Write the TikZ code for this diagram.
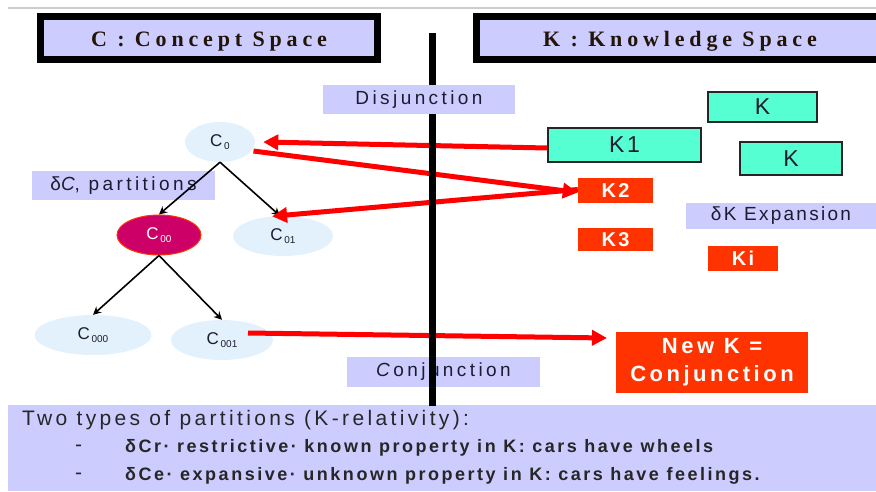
\documentclass[tikz,border=0pt]{standalone}
\usepackage{fontspec}
\setmainfont{Liberation Sans}
\newfontfamily\hdrfont[LetterSpace=22]{Liberation Serif}
\newfontfamily\lblfont[LetterSpace=18]{Liberation Sans}
\newfontfamily\kfont[LetterSpace=12]{Liberation Sans}
\newfontfamily\newkfont[LetterSpace=16]{Liberation Sans}
\newfontfamily\bodyfont[LetterSpace=16]{Liberation Sans}
\newfontfamily\bodyboldfont[LetterSpace=14]{Liberation Sans}
\usetikzlibrary{arrows.meta,shapes.geometric}
\definecolor{lav}{HTML}{CCCCFF}
\definecolor{skyell}{HTML}{E2F1FC}
\definecolor{magen}{HTML}{CC0066}
\definecolor{aqua}{HTML}{55FFD2}
\definecolor{redor}{HTML}{FF3300}
\definecolor{ink}{HTML}{1C1C30}
\definecolor{hdrink}{HTML}{231408}
\newcommand{\csub}[1]{C\raisebox{-3pt}{\fontsize{10}{10}\selectfont\,#1}}
\tikzset{
  hdr/.style={draw=black, line width=7, fill=lav, inner sep=0, text=hdrink,
    text height=18, text depth=0.5,
    font=\hdrfont\bfseries\fontsize{22}{26}\selectfont},
  lavlabel/.style={fill=lav, inner sep=0, text=ink,
    font=\lblfont\fontsize{19}{22}\selectfont},
  cell/.style={ellipse, fill=skyell, inner sep=0, minimum height=40, text=ink,
    font=\fontsize{17}{20}\selectfont},
  kgreen/.style={draw=black!85, line width=1.2, fill=aqua, inner sep=0, text=ink,
    font=\kfont\fontsize{23}{26}\selectfont},
  kred/.style={fill=redor, inner sep=0, text=white,
    font=\kfont\bfseries\fontsize{20}{24}\selectfont},
  treearrow/.style={draw=black, line width=1.6, -{Stealth[length=8,width=8]}},
  redarrow/.style={draw=red, line width=5, -{Triangle[length=15,width=15]}},
  bodytext/.style={anchor=west, inner sep=0, text=black!85,
    font=\bodyfont\fontsize{21}{24}\selectfont},
  bodybold/.style={anchor=west, inner sep=0, text=black!85,
    font=\bodyboldfont\bfseries\fontsize{18}{22}\selectfont},
}
\begin{document}
\begin{tikzpicture}[x=1pt,y=-1pt]
\useasboundingbox (0,0) rectangle (876,491);
% top rule
\draw[black!20, line width=2] (8,8) -- (876,8);
% bottom panel
\node[fill=lav, minimum width=868, minimum height=86, inner sep=0, anchor=north west] (panel) at (8,405) {};
\node[bodytext] (t1) at (22,420) {Two types of partitions (K-relativity):};
\node[bodytext] (d1) at (75,448) {-};
\node[bodybold] (t2) at (125,448) {δCr· restrictive· known property in K: cars have wheels};
\node[bodytext] (d2) at (75,476) {-};
\node[bodybold] (t3) at (125,476) {δCe· expansive· unknown property in K: cars have feelings.};
% headers
\node[hdr, minimum width=337, minimum height=43] (hc) at (209,38) {C : Concept Space};
\node[hdr, minimum width=407, minimum height=43] (hk) at (680,38) {K : Knowledge Space};
% lavender labels
\node[lavlabel, minimum width=183, minimum height=29] (dcp) at (123.5,185.5) {δ\textit{C}, partitions};
\node[lavlabel, minimum width=193, minimum height=30] (conj) at (443.5,372) {\textit{C}onjunction};
\node[lavlabel, minimum width=190, minimum height=26, font=\kfont\fontsize{19}{22}\selectfont] (dke) at (781,216) {δK Expansion};
% concept tree
\node[cell, minimum width=70] (c0) at (220,142) {\csub{0}};
\node[cell, minimum width=84, fill=magen, draw=redor, line width=1, text=white] (c00) at (159,235) {\csub{00}};
\node[cell, minimum width=100] (c01) at (283,236) {\csub{01}};
\node[cell, minimum width=117] (c000) at (93,335) {\csub{000}};
\node[cell, minimum width=102] (c001) at (222,340) {\csub{001}};
\draw[treearrow] (c0.south) -- (c00.north);
\draw[treearrow] (c0.south) -- ([xshift=-3]c01.north);
\draw[treearrow] (c00.south) -- (c000.north);
\draw[treearrow] (c00.south) -- (c001.north);
% knowledge boxes
\node[kgreen, minimum width=109, minimum height=30] (ka) at (762.5,107) {K};
\node[kgreen, minimum width=153, minimum height=34] (k1) at (624.5,145) {K1};
\node[kgreen, minimum width=102, minimum height=33] (kb) at (791,158.5) {K};
\node[kred, minimum width=75, minimum height=25] (k2) at (615.5,190.5) {K2};
\node[kred, minimum width=75, minimum height=23] (k3) at (615.5,239.5) {K3};
\node[kred, minimum width=70, minimum height=25] (ki) at (743,258.5) {Ki};
\node[kred, minimum width=192, minimum height=61, align=center,
  font=\newkfont\bfseries\fontsize{22}{28}\selectfont] (newk) at (712,362.5) {New K =\\Conjunction};
% red arrows
\coordinate (s1) at (248,333);
\coordinate (e1) at (607,338);
\draw[redarrow] ([yshift=-3]k1.west) -- ([xshift=8]c0.east);
\draw[redarrow] ([xshift=2]c0.-16) -- ([yshift=-2]k2.west);
\draw[redarrow] ([yshift=1]k2.west) -- (c01.119);
\draw[redarrow] (s1) -- (e1);
% divider
\coordinate (vtop) at (432,33);
\coordinate (vbot) at (432,406);
\draw[black, line width=7] (vtop) -- (vbot);
\node[lavlabel, minimum width=192, minimum height=29] (disj) at (419,99.5) {Disjunction};
\end{tikzpicture}
\end{document}
